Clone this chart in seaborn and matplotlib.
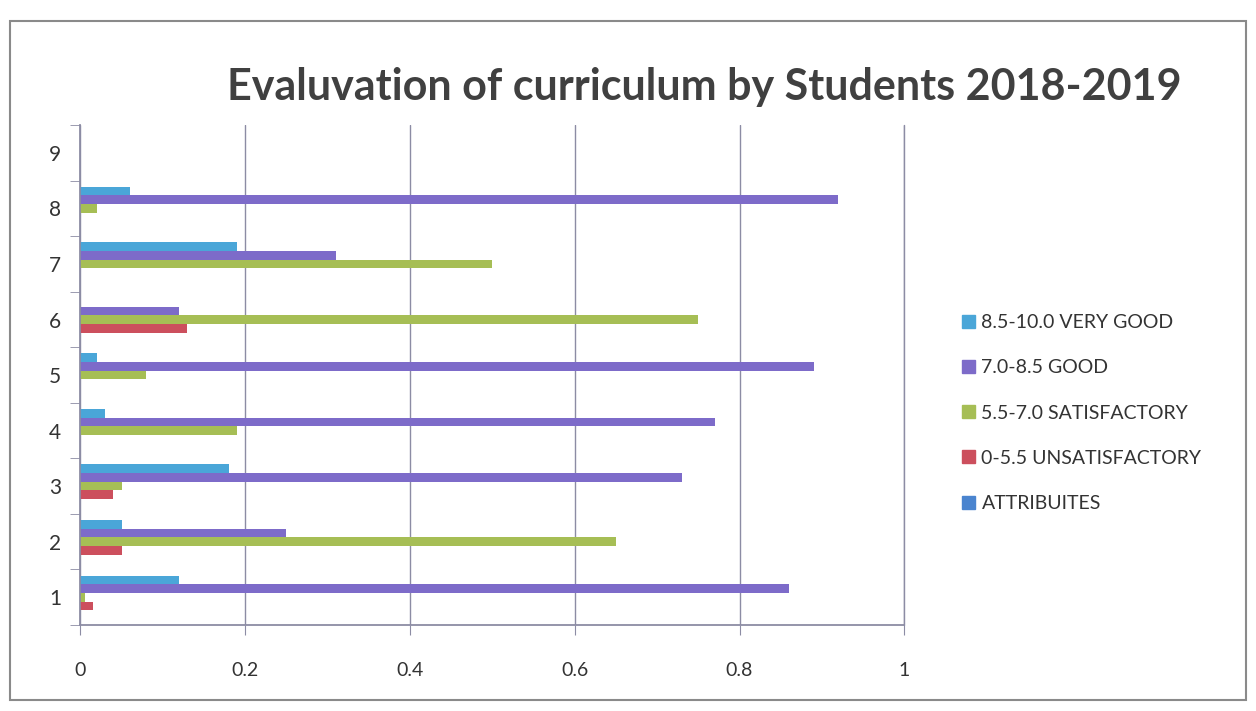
import matplotlib.pyplot as plt
import matplotlib.patches as mpatches
import pandas as pd
import seaborn as sns

# attribute numbers, top of the chart first
attributes = ['9', '8', '7', '6', '5', '4', '3', '2', '1']

very_good = [0.0, 0.06, 0.19, 0.0, 0.02, 0.03, 0.18, 0.05, 0.12]
good = [0.0, 0.92, 0.31, 0.12, 0.89, 0.77, 0.73, 0.25, 0.86]
satisfactory = [0.0, 0.02, 0.50, 0.75, 0.08, 0.19, 0.05, 0.65, 0.005]
unsatisfactory = [0.0, 0.0, 0.0, 0.13, 0.0, 0.0, 0.04, 0.05, 0.015]
attribuites = [0.0] * 9

series_names = ['8.5-10.0 VERY GOOD', '7.0-8.5 GOOD', '5.5-7.0 SATISFACTORY',
                '0-5.5 UNSATISFACTORY', 'ATTRIBUITES']
series_colors = ['#4aa6d8', '#7d6bc9', '#a6be55', '#cc4f5d', '#4a84cf']

rows = []
for name, vals in zip(series_names, [very_good, good, satisfactory, unsatisfactory, attribuites]):
    for attr, v in zip(attributes, vals):
        rows.append({'attribute': attr, 'share': v, 'series': name})
df = pd.DataFrame(rows)

sns.set_style('white')
plt.rcParams['font.family'] = ['Lato', 'DejaVu Sans']

fig = plt.figure(figsize=(12.56, 7.11), dpi=100)
ax = fig.add_axes([0.064, 0.121, 0.656, 0.703])

sns.barplot(data=df, x='share', y='attribute', hue='series', order=attributes,
            hue_order=series_names, palette=series_colors, orient='h',
            width=0.78, saturation=1, ax=ax, linewidth=0)

grid_col = '#8c8ca4'
ax.set_xlim(0, 1)
ax.set_ylim(8.5, -0.5)
ax.set_xticks([0, 0.2, 0.4, 0.6, 0.8, 1])
ax.set_xticklabels(['0', '0.2', '0.4', '0.6', '0.8', '1'], fontsize=14, color='#333333')
ax.tick_params(axis='x', pad=20, length=7, direction='out', color=grid_col, bottom=True)
ax.tick_params(axis='y', labelsize=15, length=0, pad=14, labelcolor='#333333')
ax.set_yticks(range(9), minor=False)
ax.set_yticks([i + 0.5 for i in range(-1, 9)], minor=True)
ax.tick_params(axis='y', which='minor', length=7, direction='out', color=grid_col, left=True)
ax.set_xlabel('')
ax.set_ylabel('')
ax.grid(axis='x', color=grid_col, linewidth=1)
ax.axvline(1, color=grid_col, linewidth=1, clip_on=False)
ax.set_axisbelow(True)
for side in ['top', 'right']:
    ax.spines[side].set_visible(False)
for side in ['left', 'bottom']:
    ax.spines[side].set_color(grid_col)
    ax.spines[side].set_linewidth(1.3)

handles = [mpatches.Patch(color=c, label=n) for n, c in zip(series_names, series_colors)]
fig.legend(handles=handles, loc='center left', bbox_to_anchor=(0.752, 0.419),
           frameon=False, fontsize=14, labelspacing=1.45, handlelength=0.65,
           handleheight=0.65, handletextpad=0.35, labelcolor='#333333')
ax.get_legend().remove()

fig.text(0.561, 0.878, 'Evaluvation of curriculum by Students 2018-2019', ha='center',
         va='center', fontsize=31, fontweight='bold', color='#404040')

fig.patches.append(mpatches.Rectangle((0.008, 0.015), 0.984, 0.955, transform=fig.transFigure,
                                      fill=False, edgecolor='#8a8a8a', linewidth=1.5))

fig.savefig('out.png', dpi=100)
